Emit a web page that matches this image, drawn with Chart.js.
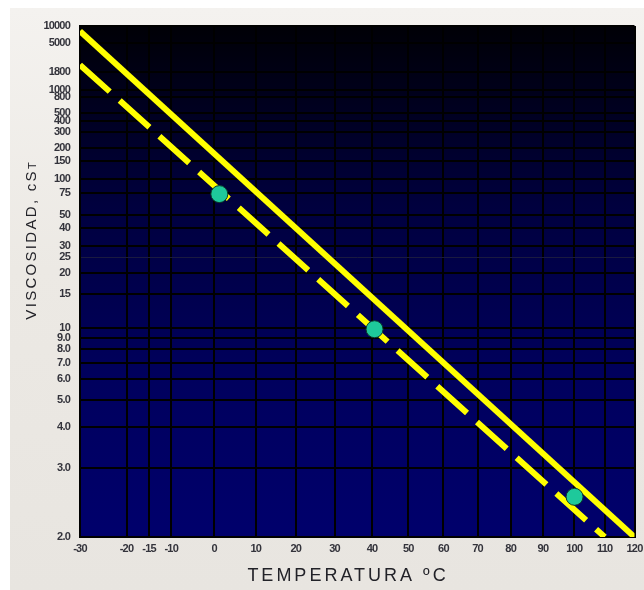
<!DOCTYPE html>
<html><head><meta charset="utf-8">
<script src="https://cdn.jsdelivr.net/npm/chart.js@4.4.1/dist/chart.umd.min.js"></script>
<style>
html,body{margin:0;padding:0;background:#fff;}
#wrap{position:relative;width:644px;height:590px;overflow:hidden;background:#fff;}
#bg{position:absolute;left:10px;top:8px;right:0;bottom:0;background:linear-gradient(180deg,#f4f2ef 0%,#ecE9e4 45%,#e8e5e0 100%);}
canvas{position:absolute;left:0;top:0;}
</style></head><body>
<div id="wrap"><div id="bg"></div><canvas id="c" width="644" height="590"></canvas></div>
<script>
// ---- data ----
const tempTicks  = [-30,-20,-15,-10,0,10,20,30,40,50,60,70,80,90,100,110,120];
const tempLabels = ['-30','-20','-15','-10','0','10','20','30','40','50','60','70','80','90','100','110','120'];
const viscTicks  = [10000,5000,1800,1000,800,500,400,300,200,150,100,75,50,40,30,25,20,15,10,9,8,7,6,5,4,3,2];
const viscLabels = ['10000','5000','1800','1000','800','500','400','300','200','150','100','75','50','40','30','25','20','15','10','9.0','8.0','7.0','6.0','5.0','4.0','3.0','2.0'];

const solidTemp = [-30, 120];
const solidVisc = [8100, 2.0];
const dashTemp  = [-30, 110];
const dashVisc  = [2270, 2.0];
const pointTemp = [1.2, 40.7, 100.1];
const pointVisc = [74, 9.9, 2.5];

const xTitle = 'TEMPERATURA ºC';
const yTitleMain = 'VISCOSIDAD, cS';
const yTitleSmall = 'T';

// ---- axis transforms (log of absolute temperature, log-log of viscosity) ----
const fx = t => Math.log10(t + 273.15);
const fy = v => Math.log10(Math.log10(v + 0.5));

const toPts = (ts, vs) => ts.map((t, i) => ({x: fx(t), y: fy(vs[i])}));

const tickFont = {family: '"Liberation Sans", Arial, sans-serif', size: 11, weight: 'bold'};
const tickColor = '#33333b';

const bgPlugin = {
  id: 'plotBg',
  beforeDraw(chart) {
    const {ctx, chartArea: a} = chart;
    const g = ctx.createLinearGradient(0, a.top, 0, a.bottom);
    g.addColorStop(0, '#000006');
    g.addColorStop(0.35, '#00003e');
    g.addColorStop(0.7, '#00005e');
    g.addColorStop(1, '#00006c');
    ctx.save();
    ctx.fillStyle = g;
    ctx.fillRect(a.left, a.top, a.right - a.left, a.bottom - a.top);
    ctx.restore();
    ctx.letterSpacing = '-0.8px';
  }
};

const titlePlugin = {
  id: 'axisTitles',
  afterDraw(chart) {
    const ctx = chart.ctx;
    ctx.save();
    ctx.fillStyle = '#222228';
    // x title
    ctx.font = '18px "Liberation Sans", Arial, sans-serif';
    ctx.letterSpacing = '3px';
    ctx.textAlign = 'center';
    ctx.textBaseline = 'middle';
    ctx.fillText(xTitle, 348, 576);
    // y title (rotated)
    ctx.translate(30, 241);
    ctx.rotate(-Math.PI / 2);
    ctx.textAlign = 'left';
    ctx.textBaseline = 'alphabetic';
    ctx.font = '15px "Liberation Sans", Arial, sans-serif';
    ctx.letterSpacing = '2.3px';
    const w1 = ctx.measureText(yTitleMain).width;
    ctx.font = '11px "Liberation Sans", Arial, sans-serif';
    ctx.letterSpacing = '0px';
    const w2 = ctx.measureText(yTitleSmall).width;
    const start = -(w1 + w2) / 2;
    ctx.font = '15px "Liberation Sans", Arial, sans-serif';
    ctx.letterSpacing = '2.3px';
    ctx.fillText(yTitleMain, start, 5.5);
    ctx.font = '11px "Liberation Sans", Arial, sans-serif';
    ctx.letterSpacing = '0px';
    ctx.fillText(yTitleSmall, start + w1, 5.5);
    ctx.restore();
    ctx.letterSpacing = '0px';
  }
};

new Chart(document.getElementById('c'), {
  type: 'scatter',
  data: {
    datasets: [
      {
        type: 'scatter',
        data: toPts(pointTemp, pointVisc),
        pointRadius: 8.5,
        pointHoverRadius: 8.5,
        backgroundColor: '#1ec99b',
        borderColor: '#0a3a2c',
        borderWidth: 1,
        order: 0
      },
      {
        type: 'line',
        data: toPts(solidTemp, solidVisc),
        borderColor: '#ffff00',
        borderWidth: 6,
        pointRadius: 0,
        tension: 0,
        fill: false,
        order: 1
      },
      {
        type: 'line',
        data: toPts(dashTemp, dashVisc),
        borderColor: '#ffff00',
        borderWidth: 6,
        borderDash: [40, 13.4],
        borderCapStyle: 'butt',
        pointRadius: 0,
        tension: 0,
        fill: false,
        order: 2
      }
    ]
  },
  options: {
    responsive: false,
    animation: false,
    devicePixelRatio: 1,
    layout: {padding: {top: 26, right: 9, left: 0, bottom: 0}},
    plugins: {legend: {display: false}, tooltip: {enabled: false}},
    scales: {
      x: {
        type: 'linear',
        min: fx(tempTicks[0]),
        max: fx(tempTicks[tempTicks.length - 1]),
        afterBuildTicks: s => { s.ticks = tempTicks.map(t => ({value: fx(t)})); },
        afterFit: s => { s.height = 53; s.paddingLeft = 0; s.paddingRight = 0; },
        ticks: {
          autoSkip: false, maxRotation: 0, minRotation: 0, padding: 5,
          font: tickFont, color: tickColor,
          callback: (v, i) => tempLabels[i]
        },
        grid: {color: '#000000', lineWidth: 2, drawTicks: false},
        border: {display: true, color: '#000000', width: 2}
      },
      y: {
        type: 'linear',
        min: fy(viscTicks[viscTicks.length - 1]),
        max: fy(viscTicks[0]),
        afterBuildTicks: s => { s.ticks = viscTicks.map(v => ({value: fy(v)})); },
        afterFit: s => { s.width = 80; s.paddingTop = 0; s.paddingBottom = 0; },
        ticks: {
          autoSkip: false, padding: 10,
          font: tickFont, color: tickColor,
          callback: (v, i) => viscLabels[i]
        },
        grid: {
          color: c => (viscTicks[c.index] === 25 ? '#1a1a40' : '#000000'),
          lineWidth: c => (viscTicks[c.index] === 25 ? 1 : 2),
          drawTicks: false
        },
        border: {display: true, color: '#000000', width: 2}
      }
    }
  },
  plugins: [bgPlugin, titlePlugin]
});
</script>
</body></html>
